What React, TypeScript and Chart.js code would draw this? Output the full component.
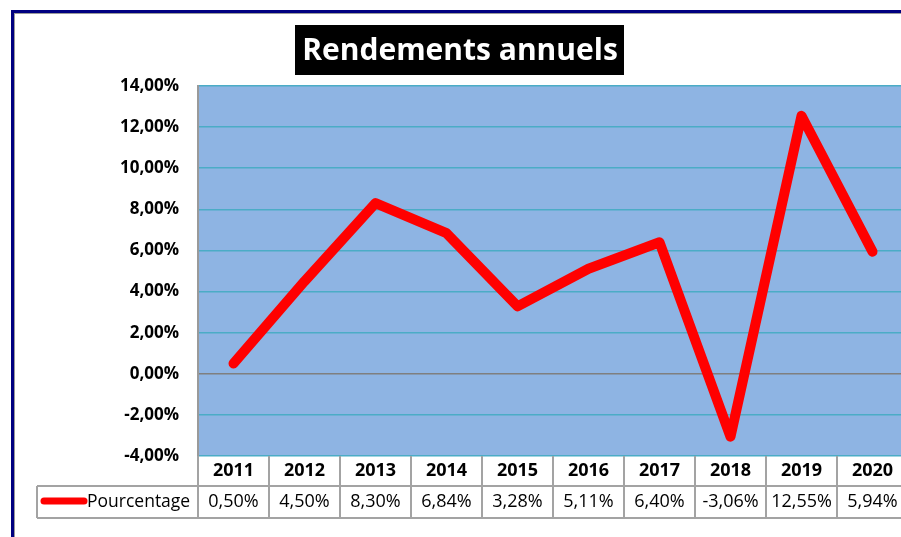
import React, { useEffect, useRef } from "react";
import { Chart, registerables } from "chart.js";

Chart.register(...registerables);

const titleText = "Rendements annuels";
const seriesLabel = "Pourcentage";
const categories = ["2011", "2012", "2013", "2014", "2015", "2016", "2017", "2018", "2019", "2020"];
const rendements = [0.5, 4.5, 8.3, 6.84, 3.28, 5.11, 6.4, -3.06, 12.55, 5.94];
const yMin = -4;
const yMax = 14;
const yStep = 2;

const FONT = "'Open Sans', 'Liberation Sans', sans-serif";
const fmt = (v: number) => v.toFixed(2).replace(".", ",") + "%";

export default function App() {
  const ref = useRef<HTMLCanvasElement | null>(null);

  useEffect(() => {
    if (!ref.current) return;

    const decor = {
      id: "decor",
      beforeDraw(chart: any) {
        const { ctx, chartArea } = chart;
        ctx.save();
        ctx.fillStyle = "#ffffff";
        ctx.fillRect(0, 0, chart.width, chart.height);
        ctx.fillStyle = "#8EB4E3";
        ctx.fillRect(chartArea.left, chartArea.top, chartArea.right - chartArea.left, chartArea.bottom - chartArea.top);
        ctx.restore();
      },
      afterDraw(chart: any) {
        const { ctx, chartArea } = chart;
        const xs = chart.scales.x;
        ctx.save();
        // outer border
        ctx.fillStyle = "#000080";
        ctx.fillRect(11, 10, 3, chart.height);
        ctx.fillRect(11, 10, chart.width, 3);
        ctx.fillStyle = "#9a9a9a";
        ctx.fillRect(14, 13, 1, chart.height);
        ctx.fillRect(14, 13, chart.width, 1);

        // title
        ctx.fillStyle = "#000000";
        ctx.fillRect(295, 25, 329, 50);
        ctx.fillStyle = "#ffffff";
        ctx.font = `bold 30px ${FONT}`;
        ctx.textAlign = "center";
        ctx.textBaseline = "middle";
        ctx.fillText(titleText, 460, 51);

        // data table
        const top = chartArea.bottom;
        const mid = top + 30;
        const bot = top + 62;
        const half = (xs.getPixelForValue(1) - xs.getPixelForValue(0)) / 2;
        const right = chartArea.right;
        ctx.strokeStyle = "#a3a3a3";
        ctx.lineWidth = 2;
        ctx.beginPath();
        ctx.moveTo(37, mid); ctx.lineTo(right, mid);
        ctx.moveTo(37, bot); ctx.lineTo(right, bot);
        ctx.moveTo(37, mid); ctx.lineTo(37, bot);
        ctx.moveTo(chartArea.left, top); ctx.lineTo(chartArea.left, bot);
        categories.forEach((_, i) => {
          const bx = xs.getPixelForValue(i) + half;
          ctx.moveTo(bx, top); ctx.lineTo(bx, bot);
        });
        ctx.stroke();

        ctx.fillStyle = "#000000";
        ctx.textBaseline = "middle";
        ctx.textAlign = "center";
        categories.forEach((c, i) => {
          ctx.font = `bold 18px ${FONT}`;
          ctx.fillText(c, xs.getPixelForValue(i), top + 15);
          ctx.font = `18px ${FONT}`;
          ctx.fillText(fmt(rendements[i]), xs.getPixelForValue(i), mid + 16);
        });

        // legend key
        ctx.strokeStyle = "#FF0000";
        ctx.lineWidth = 7;
        ctx.lineCap = "round";
        ctx.beginPath();
        ctx.moveTo(44, mid + 15);
        ctx.lineTo(84, mid + 15);
        ctx.stroke();
        ctx.textAlign = "left";
        ctx.font = `17.5px ${FONT}`;
        ctx.fillText(seriesLabel, 87, mid + 16);
        ctx.restore();
      },
    };

    const chart = new Chart(ref.current, {
      type: "line",
      data: {
        labels: categories,
        datasets: [
          {
            label: seriesLabel,
            data: rendements,
            borderColor: "#FF0000",
            backgroundColor: "#FF0000",
            borderWidth: 10,
            pointRadius: 0,
            tension: 0,
            borderCapStyle: "round",
            borderJoinStyle: "round",
          },
        ],
      },
      options: {
        responsive: false,
        animation: false,
        devicePixelRatio: 1,
        layout: { padding: { left: 0, top: 86, right: 12, bottom: 81 } },
        plugins: { legend: { display: false }, title: { display: false }, tooltip: { enabled: false } },
        scales: {
          x: { type: "category", display: false, offset: true },
          y: {
            min: yMin,
            max: yMax,
            ticks: {
              stepSize: yStep,
              padding: 19,
              color: "#000000",
              font: { family: FONT, size: 17, weight: "bold" },
              callback: (v: any) => fmt(Number(v)),
            },
            grid: {
              drawTicks: false,
              lineWidth: 1.5,
              color: (c: any) => (c.tick && c.tick.value === 0 ? "#7f7f7f" : "#4BACC6"),
            },
            border: { color: "#9a9a9a", width: 2 },
            afterFit: (s: any) => {
              s.width = 198;
              s.paddingTop = 0;
              s.paddingBottom = 0;
            },
          },
        },
      },
      plugins: [decor],
    } as any);

    return () => chart.destroy();
  }, []);

  return (
    <div style={{ position: "fixed", left: 0, top: 0, width: 901, height: 537, overflow: "hidden", background: "#fff" }}>
      <canvas ref={ref} width={920} height={537} style={{ display: "block" }} />
    </div>
  );
}
